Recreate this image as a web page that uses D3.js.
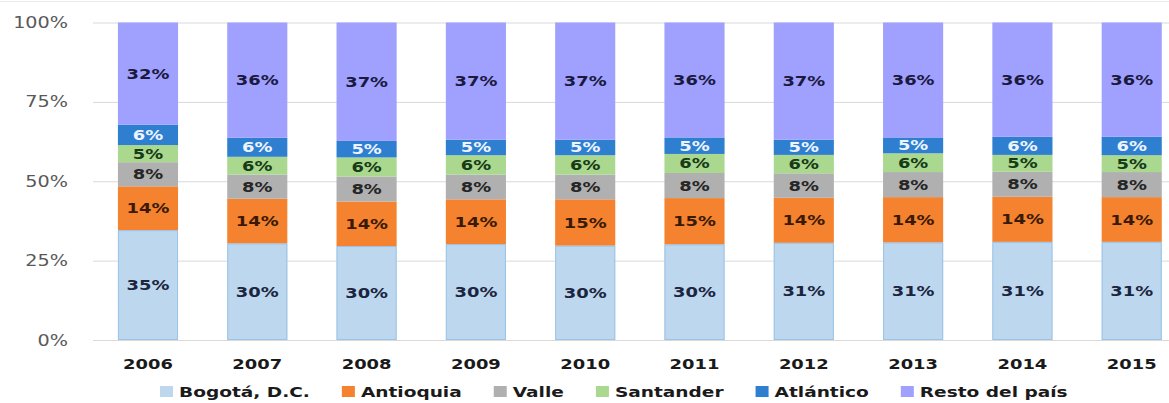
<!DOCTYPE html>
<html>
<head>
<meta charset="utf-8">
<script src="https://cdn.jsdelivr.net/npm/d3@7"></script>
<style>
  html, body { margin: 0; padding: 0; background: #fff; }
  svg { display: block; font-family: "DejaVu Sans", Verdana, sans-serif; }
</style>
</head>
<body>
<script>
// Chart data (percent share per year)
const years = ['2006', '2007', '2008', '2009', '2010', '2011', '2012', '2013', '2014', '2015'];
const seriesNames = ['Bogotá, D.C.', 'Antioquia', 'Valle', 'Santander', 'Atlántico', 'Resto del país'];
const bogota    = [34.6, 30.4, 29.6, 30.2, 29.7, 30.1, 30.6, 30.7, 30.9, 30.9];
const antioquia = [13.8, 14.1, 14.0, 14.1, 14.6, 14.6, 14.2, 14.3, 14.2, 14.1];
const valle     = [7.6, 7.6, 7.9, 7.8, 7.8, 7.9, 7.7, 7.9, 7.9, 7.9];
const santander = [5.4, 5.6, 6.0, 6.1, 6.1, 6.0, 5.8, 5.9, 5.3, 5.3];
const atlantico = [6.4, 6.0, 5.2, 4.9, 4.9, 5.2, 4.8, 5.0, 5.7, 5.8];
const resto     = [32.2, 36.3, 37.3, 36.9, 36.9, 36.2, 36.9, 36.2, 36.0, 36.0];
const yTicks = [0, 25, 50, 75, 100];

const fills  = ['#bdd7ee', '#f5822f', '#b0b0b0', '#a9d88e', '#2e7fd0', '#a0a0ff'];
const labelColors = ['#1c2540', '#3a1a05', '#262626', '#173a17', '#eef4ff', '#1a1a40'];

const width = 1169, height = 403;
const stretch = 1.28; // text in the picture is drawn wide

const svg = d3.select('body').append('svg')
  .attr('width', width)
  .attr('height', height);

// build rows for the stack
const columns = [bogota, antioquia, valle, santander, atlantico, resto];
const rows = years.map((yr, i) => {
  const row = { year: yr };
  seriesNames.forEach((s, j) => { row[s] = columns[j][i]; });
  return row;
});
const stacked = d3.stack().keys(seriesNames)(rows);

const x = d3.scaleBand().domain(years).range([93, 1186.7])
  .paddingInner(0.45).paddingOuter(0.228);
const y = d3.scaleLinear().domain([0, 100]).range([340, 22.5]);

// faint frame line at top
svg.append('line')
  .attr('x1', 0).attr('x2', width).attr('y1', 1.5).attr('y2', 1.5)
  .attr('stroke', '#ececec').attr('stroke-width', 1);

// y axis with gridlines
const yAxis = svg.append('g')
  .attr('transform', 'translate(93,0)')
  .call(d3.axisLeft(y).tickValues(yTicks).tickSize(-(width - 93)).tickFormat(d => d + '%'));
yAxis.select('.domain').remove();
yAxis.selectAll('.tick line').attr('stroke', '#d9d9d9').attr('stroke-width', 1);
yAxis.selectAll('.tick text')
  .attr('x', null).attr('dy', null)
  .attr('transform', `translate(-25,5) scale(${stretch},1)`)
  .attr('text-anchor', 'end')
  .attr('fill', '#595959')
  .style('font-size', '15px')
  .style('font-family', '"DejaVu Sans", sans-serif');

// stacked bars
const layers = svg.append('g').selectAll('g.layer')
  .data(stacked)
  .join('g')
  .attr('class', 'layer')
  .attr('fill', (d, i) => fills[i]);

layers.selectAll('rect')
  .data(d => d)
  .join('rect')
  .attr('x', d => x(d.data.year))
  .attr('width', x.bandwidth())
  .attr('y', d => y(d[1]))
  .attr('height', d => y(d[0]) - y(d[1]));

// thin outline on the Bogotá segment
svg.append('g').selectAll('rect')
  .data(stacked[0])
  .join('rect')
  .attr('x', d => x(d.data.year) + 0.5)
  .attr('width', x.bandwidth() - 1)
  .attr('y', d => y(d[1]) + 0.5)
  .attr('height', d => y(d[0]) - y(d[1]) - 1)
  .attr('fill', 'none')
  .attr('stroke', '#9cc3e6')
  .attr('stroke-width', 1);

// segment labels
stacked.forEach((layer, i) => {
  svg.append('g').selectAll('text')
    .data(layer)
    .join('text')
    .attr('transform', d => {
      const cx = x(d.data.year) + x.bandwidth() / 2;
      const cy = (y(d[0]) + y(d[1])) / 2 + 5;
      return `translate(${cx},${cy}) scale(${stretch},1)`;
    })
    .attr('text-anchor', 'middle')
    .attr('fill', labelColors[i])
    .style('font-size', '14px')
    .style('font-weight', 'bold')
    .text(d => Math.round(d[1] - d[0]) + '%');
});

// x axis labels
const xAxis = svg.append('g')
  .attr('transform', 'translate(0,340)')
  .call(d3.axisBottom(x).tickSize(0));
xAxis.select('.domain').remove();
xAxis.selectAll('.tick text')
  .attr('y', null).attr('dy', null)
  .attr('transform', `translate(0,29) scale(${stretch},1)`)
  .attr('text-anchor', 'middle')
  .attr('fill', '#1a1a1a')
  .style('font-size', '14px')
  .style('font-weight', 'bold')
  .style('font-family', '"DejaVu Sans", sans-serif');

// legend
const legend = svg.append('g').attr('transform', 'translate(0,397)');
let lx = 160;
seriesNames.forEach((name, i) => {
  legend.append('rect')
    .attr('x', lx).attr('y', -11)
    .attr('width', 13).attr('height', 11)
    .attr('fill', fills[i]);
  const t = legend.append('text')
    .attr('transform', `translate(${lx + 19},0) scale(${stretch},1)`)
    .attr('fill', '#1a1a1a')
    .style('font-size', '14.5px')
    .style('font-weight', 'bold')
    .text(name);
  const w = t.node().getComputedTextLength() * stretch;
  lx += 19 + w + 32;
});
</script>
</body>
</html>
